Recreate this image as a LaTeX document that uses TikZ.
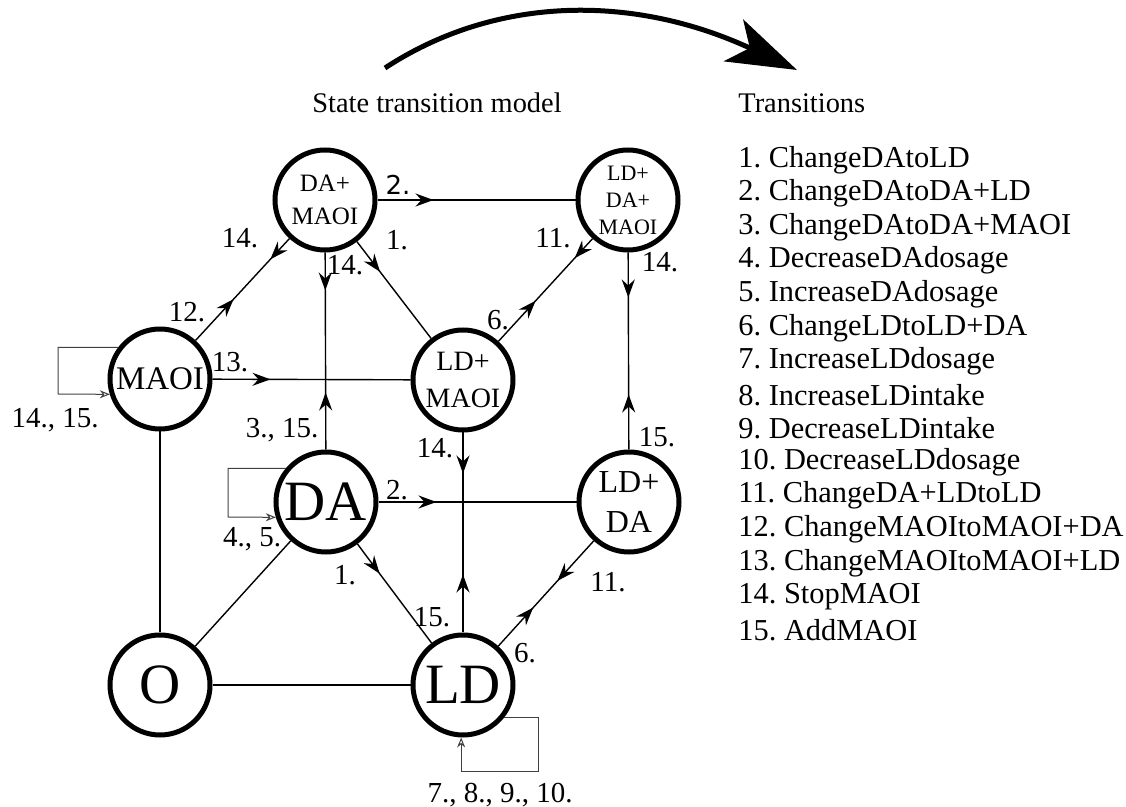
\documentclass[tikz,border=0pt]{standalone}
\usepackage{fontspec}
\setmainfont{Liberation Serif}
\newfontfamily\numsans{DejaVu Sans}
\usetikzlibrary{arrows.meta,decorations.markings}

\begin{document}
\frenchspacing
\begin{tikzpicture}[x=0.5pt,y=-0.5pt,
  state/.style={circle, draw, line width=2.5pt, minimum size=50pt, inner sep=0pt, align=center},
  edge/.style={line width=0.7pt},
  midtip/.tip={Stealth[length=9pt,width=6.5pt,inset=3pt]},
  fwd/.style={postaction={decorate,decoration={markings,mark=at position #1 with {\arrow{midtip}}}}},
  bwd/.style={postaction={decorate,decoration={markings,mark=at position #1 with {\arrowreversed{midtip}}}}},
  loopline/.style={line width=0.5pt, black!75, -{Stealth[open,length=5pt,width=4pt]}},
  lbl/.style={font=\fontsize{14.5}{16}\selectfont, inner sep=0pt},
  listitem/.style={font=\fontsize{15.2}{17}\selectfont, inner sep=0pt, anchor=west},
]
\useasboundingbox (0,0) rectangle (1126,807);

% headings and the flow arrow between them
\node[font=\fontsize{14.2}{16}\selectfont, inner sep=0pt] (title) at (437,103) {State transition model};
\node[font=\fontsize{14.2}{16}\selectfont, inner sep=0pt, anchor=west] (trhead) at (738,103) {Transitions};
\coordinate (flowstart) at (385,68);
\coordinate (flowend) at (797,70);
\draw[line width=2.5pt, -{Stealth[length=35pt,width=23pt,inset=9pt]}]
  (flowstart) .. controls (498,-6) and (636,-5) .. (flowend);

% states
\node[state, font=\fontsize{12.5}{16.5}\selectfont] (DAM)   at (325,200) {DA+\\MAOI};
\node[state, font=\fontsize{11}{13.5}\selectfont]   (LDDAM) at (628,200) {LD+\\DA+\\MAOI};
\node[state, font=\fontsize{16.5}{18}\selectfont]   (MAOI)  at (160,379) {MAOI};
\node[state, font=\fontsize{14}{18.5}\selectfont]   (LDM)   at (463,380) {LD+\\MAOI};
\node[state, font=\fontsize{28.5}{30}\selectfont]   (DA)    at (326,502) {DA};
\node[state, font=\fontsize{16}{20}\selectfont]     (LDDA)  at (629,502) {LD+\\DA};
\node[state, font=\fontsize{28.5}{30}\selectfont]   (O)     at (160,685) {O};
\node[state, font=\fontsize{28.5}{30}\selectfont]   (LD)    at (463,685) {LD};

% transitions
\draw[edge, fwd=28pt] (DAM) -- (LDDAM);
\draw[edge, fwd=28.5pt, bwd=-19pt] (DA) -- (DAM);
\draw[edge, fwd=28pt, bwd=-14pt] (MAOI) -- (DAM);
\draw[edge, fwd=29pt] (MAOI) -- (LDM);
\draw[edge, fwd=19pt] (DAM) -- (LDM);
\draw[edge, fwd=27.5pt, bwd=-13pt] (LDM) -- (LDDAM);
\draw[edge, fwd=27.5pt, bwd=-22.5pt] (LDDA) -- (LDDAM);
\draw[edge, fwd=29pt, bwd=-20.5pt] (LD) -- (LDM);
\draw[edge, fwd=29pt] (DA) -- (LDDA);
\draw[edge, fwd=18.5pt] (DA) -- (LD);
\draw[edge, fwd=26pt, bwd=-27pt] (LD) -- (LDDA);
\draw[edge] (O) -- (LD);
\draw[edge] (O) -- (MAOI);
\draw[edge] (O) -- (DA);

% self transitions
\coordinate (maoiloop) at (58,394);
\coordinate (daloop) at (228,517);
\coordinate (ldloop) at (538,772);
\draw[loopline] (MAOI.143) -| (maoiloop) -- (MAOI.197);
\draw[loopline] (DA.140) -| (daloop) -- (DA.197);
\draw[loopline] (LD.-38) -| (ldloop) -| (LD.-92);

% transition numbers
\node[font=\numsans\fontsize{13}{14}\selectfont, inner sep=0pt] (l2a) at (398,185) {2.};
\node[lbl] (l14a) at (240,238) {14.};
\node[lbl] (l1a) at (397,240) {1.};
\node[lbl] (l14b) at (345,265) {14.};
\node[lbl] (l11a) at (553,238) {11.};
\node[lbl] (l14c) at (660,262) {14.};
\node[lbl] (l12) at (187,312) {12.};
\node[lbl] (l6a) at (498,320) {6.};
\node[lbl] (l13) at (230,362) {13.};
\node[lbl] (l315) at (282,430) {3., 15.};
\node[lbl] (l1415) at (55,420) {14., 15.};
\node[lbl] (l14d) at (435,448) {14.};
\node[lbl] (l15a) at (657,437) {15.};
\node[lbl] (l2b) at (397,490) {2.};
\node[lbl] (l45) at (252,539) {4., 5.};
\node[lbl] (l1b) at (345,575) {1.};
\node[lbl] (l11b) at (608,582) {11.};
\node[lbl] (l15b) at (432,617) {15.};
\node[lbl] (l6b) at (525,653) {6.};
\node[lbl] (l78910) at (500,795) {7., 8., 9., 10.};

% list of transitions
\foreach \t [count=\i] in {ChangeDAtoLD, ChangeDAtoDA+LD, ChangeDAtoDA+MAOI,
  DecreaseDAdosage, IncreaseDAdosage, ChangeLDtoLD+DA, IncreaseLDdosage,
  IncreaseLDintake, DecreaseLDintake, DecreaseLDdosage, ChangeDA+LDtoLD,
  ChangeMAOItoMAOI+DA, ChangeMAOItoMAOI+LD, StopMAOI, AddMAOI}
  \node[listitem] (tr\i) at (738,{160+33.57*(\i-1)}) {\i. \t};
\end{tikzpicture}
\end{document}
